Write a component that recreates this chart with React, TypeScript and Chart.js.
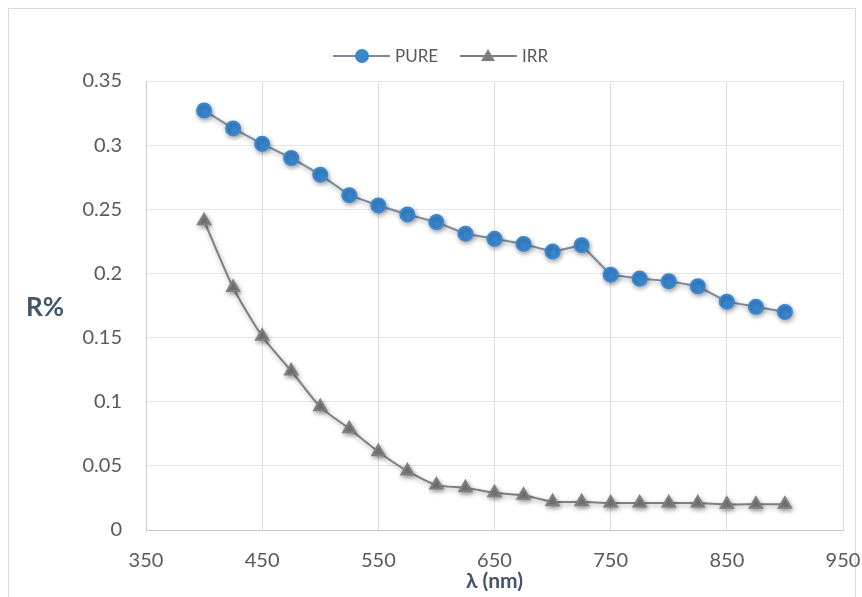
import React, { useEffect, useRef } from "react";
import { Chart, registerables } from "chart.js";

Chart.register(...registerables);

// Wavelength samples (nm)
const wavelengths = [400, 425, 450, 475, 500, 525, 550, 575, 600, 625, 650, 675, 700, 725, 750, 775, 800, 825, 850, 875, 900];
// Reflectance of the pure sample
const pure = [0.327, 0.313, 0.301, 0.29, 0.277, 0.261, 0.253, 0.246, 0.24, 0.231, 0.227, 0.223, 0.217, 0.222, 0.199, 0.196, 0.194, 0.19, 0.178, 0.174, 0.17];
// Reflectance of the irradiated sample
const irr = [0.241, 0.189, 0.151, 0.124, 0.096, 0.079, 0.061, 0.046, 0.035, 0.033, 0.029, 0.027, 0.022, 0.022, 0.021, 0.021, 0.021, 0.021, 0.02, 0.02, 0.02];

const seriesNames = ["PURE", "IRR"];
const xTitle = "λ (nm)";
const yTitle = "R%";

const BLUE = "#3a87d0";
const BLUE_LINE = "#7d8a99";
const GRAY = "#7f7f7f";
const TEXT = "#595959";
const FONT = "Lato, 'Open Sans', sans-serif";

const markerShadow = {
  id: "markerShadow",
  beforeDatasetsDraw(chart: any) {
    const ctx = chart.ctx;
    ctx.save();
    ctx.shadowColor = "rgba(0,0,0,0.35)";
    ctx.shadowBlur = 5;
    ctx.shadowOffsetX = 1;
    ctx.shadowOffsetY = 2;
  },
  afterDatasetsDraw(chart: any) {
    chart.ctx.restore();
  },
};

const extras = {
  id: "extras",
  afterDraw(chart: any) {
    const ctx = chart.ctx;
    const area = chart.chartArea;
    ctx.save();
    // horizontal y-axis caption
    ctx.fillStyle = "#44546a";
    ctx.font = `bold 26px ${FONT}`;
    ctx.textAlign = "center";
    ctx.textBaseline = "middle";
    ctx.fillText(yTitle, 45, (area.top + area.bottom) / 2 + 2);

    // legend
    ctx.font = `17px ${FONT}`;
    ctx.textBaseline = "middle";
    ctx.textAlign = "left";
    const y = 56;
    let x = 333;

    // PURE
    ctx.strokeStyle = BLUE_LINE;
    ctx.lineWidth = 2;
    ctx.beginPath();
    ctx.moveTo(x, y);
    ctx.lineTo(x + 57, y);
    ctx.stroke();
    ctx.fillStyle = BLUE;
    ctx.beginPath();
    ctx.arc(x + 29, y, 7, 0, Math.PI * 2);
    ctx.fill();
    ctx.fillStyle = TEXT;
    ctx.fillText(seriesNames[0], x + 62, y + 1);

    // IRR
    x = 460;
    ctx.strokeStyle = GRAY;
    ctx.beginPath();
    ctx.moveTo(x, y);
    ctx.lineTo(x + 57, y);
    ctx.stroke();
    ctx.fillStyle = GRAY;
    const cx = x + 28;
    ctx.beginPath();
    ctx.moveTo(cx, y - 7);
    ctx.lineTo(cx + 7, y + 5);
    ctx.lineTo(cx - 7, y + 5);
    ctx.closePath();
    ctx.fill();
    ctx.fillStyle = TEXT;
    ctx.fillText(seriesNames[1], x + 62, y + 1);
    ctx.restore();
  },
};

export default function App() {
  const ref = useRef<HTMLCanvasElement | null>(null);

  useEffect(() => {
    if (!ref.current) return;
    const chart = new Chart(ref.current, {
      type: "line",
      data: {
        datasets: [
          {
            label: seriesNames[0],
            data: wavelengths.map((w, i) => ({ x: w, y: pure[i] })),
            borderColor: BLUE_LINE,
            borderWidth: 2,
            backgroundColor: BLUE,
            pointBackgroundColor: BLUE,
            pointBorderColor: BLUE,
            pointStyle: "circle",
            pointRadius: 7,
            tension: 0,
          },
          {
            label: seriesNames[1],
            data: wavelengths.map((w, i) => ({ x: w, y: irr[i] })),
            borderColor: GRAY,
            borderWidth: 2,
            backgroundColor: GRAY,
            pointBackgroundColor: GRAY,
            pointBorderColor: GRAY,
            pointStyle: "triangle",
            pointRadius: 7,
            tension: 0.25,
          },
        ],
      },
      options: {
        responsive: false,
        animation: false,
        layout: { padding: { top: 81, right: 19, left: 0, bottom: 0 } },
        plugins: {
          legend: { display: false },
          tooltip: { enabled: false },
        },
        scales: {
          x: {
            type: "linear",
            min: 350,
            max: 950,
            ticks: {
              stepSize: 100,
              padding: 19,
              color: TEXT,
              font: { family: FONT, size: 20 },
            },
            grid: { color: "#dcdcdc", drawTicks: false, lineWidth: 1 },
            border: { color: "#c8c8c8", width: 1 },
            title: {
              display: true,
              text: xTitle,
              color: "#44546a",
              font: { family: FONT, size: 21, weight: "bold" },
              padding: { top: 0, bottom: 3 },
            },
            afterFit(scale: any) {
              scale.height = 67;
              scale.paddingLeft = 0;
              scale.paddingRight = 0;
            },
          },
          y: {
            type: "linear",
            min: 0,
            max: 0.35,
            ticks: {
              stepSize: 0.05,
              padding: 24,
              color: TEXT,
              font: { family: FONT, size: 20 },
              callback: (v: any) => String(Number(Number(v).toFixed(2))),
            },
            grid: { color: "#e6e6e6", drawTicks: false, lineWidth: 1 },
            border: { color: "#c8c8c8", width: 1 },
            afterFit(scale: any) {
              scale.width = 146;
              scale.paddingTop = 0;
              scale.paddingBottom = 0;
            },
          },
        },
      } as any,
      plugins: [markerShadow, extras],
    });
    return () => chart.destroy();
  }, []);

  return (
    <div style={{ position: "fixed", left: 0, top: 0, width: 862, height: 597, background: "#fff" }}>
      <div
        style={{
          position: "absolute",
          left: 8,
          top: 8,
          width: 848,
          height: 600,
          border: "1px solid #d9d9d9",
          boxSizing: "border-box",
        }}
      />
      <canvas ref={ref} width={862} height={597} style={{ position: "absolute", left: 0, top: 0 }} />
    </div>
  );
}
